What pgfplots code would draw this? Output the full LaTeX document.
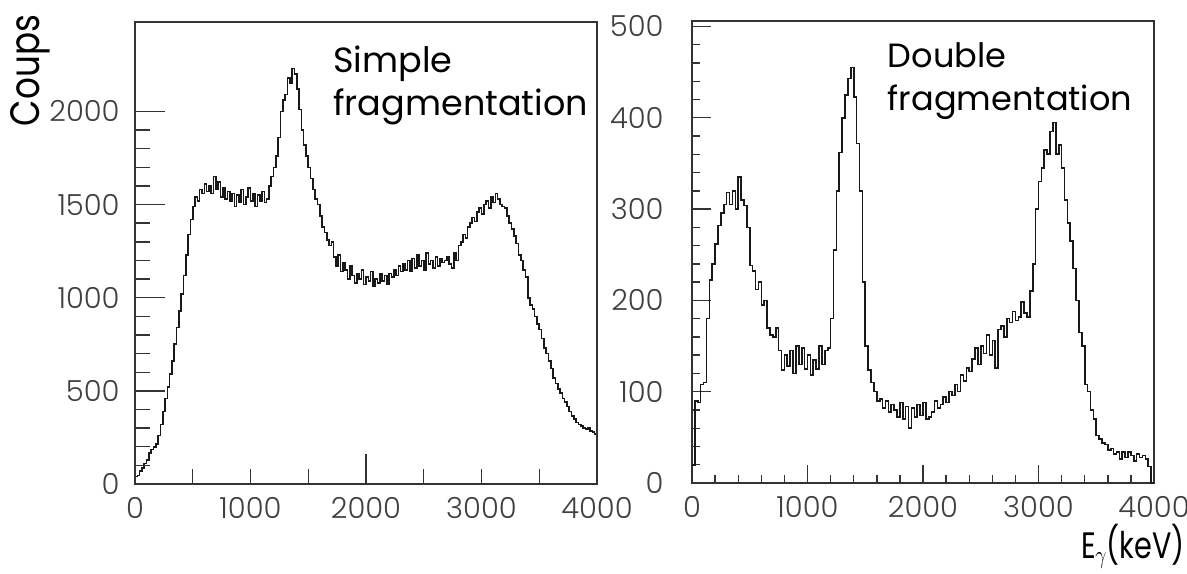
\documentclass[border=0pt]{standalone}
\usepackage{pgfplots}
\pgfplotsset{compat=1.18}
\usepackage{pgfplotstable}
\usepackage{fontspec}
\setmainfont{Poppins}
\newfontfamily\lightfont{Poppins Light}
\usepackage{graphicx}

\pgfplotstableread{
y
40
45
70
85
110
130
165
185
200
215
260
320
390
460
520
590
660
750
840
930
1020
1120
1230
1340
1420
1490
1540
1520
1580
1560
1610
1570
1600
1560
1650
1580
1620
1540
1590
1530
1570
1520
1560
1490
1550
1510
1580
1500
1540
1590
1520
1560
1490
1550
1520
1570
1510
1530
1600
1650
1700
1760
1860
2000
2060
2090
2180
2150
2230
2200
2120
2010
1900
1820
1760
1700
1640
1580
1530
1500
1440
1380
1350
1310
1280
1300
1220
1170
1230
1140
1190
1150
1100
1170
1120
1080
1130
1100
1150
1070
1110
1090
1140
1060
1100
1080
1130
1090
1120
1070
1130
1110
1150
1120
1170
1140
1180
1150
1200
1140
1210
1160
1230
1170
1200
1150
1240
1180
1200
1160
1220
1170
1210
1190
1200
1220
1180
1160
1240
1200
1280
1300
1340
1320
1380
1400
1430
1410
1460
1480
1450
1500
1520
1480
1540
1510
1560
1530
1500
1490
1480
1440
1400
1370
1330
1290
1230
1200
1150
1110
1000
960
940
900
860
830
780
730
700
660
620
570
540
510
490
460
440
415
390
365
350
330
320
310
300
295
300
285
280
270
270
}\leftdata

\pgfplotstableread{
y
20
90
88
108
110
180
222
240
262
282
296
305
318
305
320
300
335
310
304
280
238
232
212
220
195
200
170
162
160
170
145
124
140
128
145
120
150
130
148
125
140
118
135
125
150
130
145
148
180
255
320
362
400
425
443
455
423
372
320
220
150
124
110
100
90
92
82
90
78
86
80
72
88
70
84
60
82
72
86
74
88
70
72
78
90
82
86
94
88
100
96
108
100
118
112
126
122
136
148
130
150
142
162
140
156
126
168
172
160
180
176
188
178
182
198
186
182
210
240
300
330
345
365
360
385
395
360
370
345
310
285
265
235
200
165
150
108
100
80
70
52
48
44
42
36
38
32
34
26
34
28
34
30
24
32
28
30
26
18
0
0
}\rightdata

\pgfplotsset{
  panel/.style={
    scale only axis, width=231pt, height=231pt,
    xmin=0, xmax=4000,
    axis line style={black!80, line width=0.8pt},
    tick style={black!80, line width=0.7pt},
    tick align=inside, tick pos=left,
    ticklabel style={font=\lightfont\fontsize{14.5}{16}\selectfont, text=black!75},
    /pgf/number format/assume math mode=true,
    /pgf/number format/set thousands separator={},
    scaled ticks=false,
    xticklabel style={inner sep=0pt, yshift=-6.5pt},
  }
}

\begin{document}
\begin{tikzpicture}
\path[use as bounding box] (0,0) rectangle (593.5pt,286.5pt);

% left panel: data + x ticks
\begin{axis}[panel, at={(67.5pt,44.5pt)}, anchor=south west,
  ymin=0, ymax=2480,
  xtick={0,1000,2000,3000,4000}, minor x tick num=1,
  major tick length=7.5pt, minor tick length=7.5pt,
  ytick=\empty]
\addplot[const plot mark left, black!90, line width=0.8pt] table[x expr=\coordindex*20, y=y] {\leftdata};
\node[anchor=north west, align=left, inner sep=0pt, font=\fontsize{17.5}{21.5}\selectfont]
  at (rel axis cs:0.4286,0.950) {Simple\\fragmentation};
\end{axis}
% left panel: y ticks
\begin{axis}[panel, at={(67.5pt,44.5pt)}, anchor=south west,
  ymin=0, ymax=2480,
  xtick=\empty, extra x ticks={2000}, extra x tick labels={},
  ytick={0,500,1000,1500,2000}, minor y tick num=4,
  major tick length=15pt, minor tick length=7.5pt,
  yticklabel style={inner sep=0pt, xshift=-7.5pt},
  ylabel={\scalebox{0.9}[1.08]{Coups}},
  ylabel style={at={(axis description cs:-0.227,0.895)}, anchor=center, inner sep=0pt, font=\fontsize{19}{19}\selectfont}]
\end{axis}

% right panel
\begin{axis}[panel, at={(346pt,45pt)}, anchor=south west,
  ymin=0, ymax=506,
  xtick={0,1000,2000,3000,4000}, minor x tick num=4,
  ytick={0,100,200,300,400,500}, minor y tick num=4,
  major tick length=9.25pt, minor tick length=4pt,
  yticklabel style={inner sep=0pt, xshift=-14pt},
  xlabel={\scalebox{0.82}[1.05]{E\kern-0.5pt$_{\gamma}$\kern-0.5pt(keV)}},
  xlabel style={at={(axis description cs:1.067,-0.088)}, anchor=north east, inner sep=0pt, font=\fontsize{17.5}{17.5}\selectfont}]
\addplot[const plot mark left, black!90, line width=0.8pt] table[x expr=\coordindex*25, y=y] {\rightdata};
\node[anchor=north west, align=left, inner sep=0pt, font=\fontsize{16.8}{21.5}\selectfont]
  at (rel axis cs:0.423,0.954) {Double\\fragmentation};
\end{axis}
\end{tikzpicture}
\end{document}
